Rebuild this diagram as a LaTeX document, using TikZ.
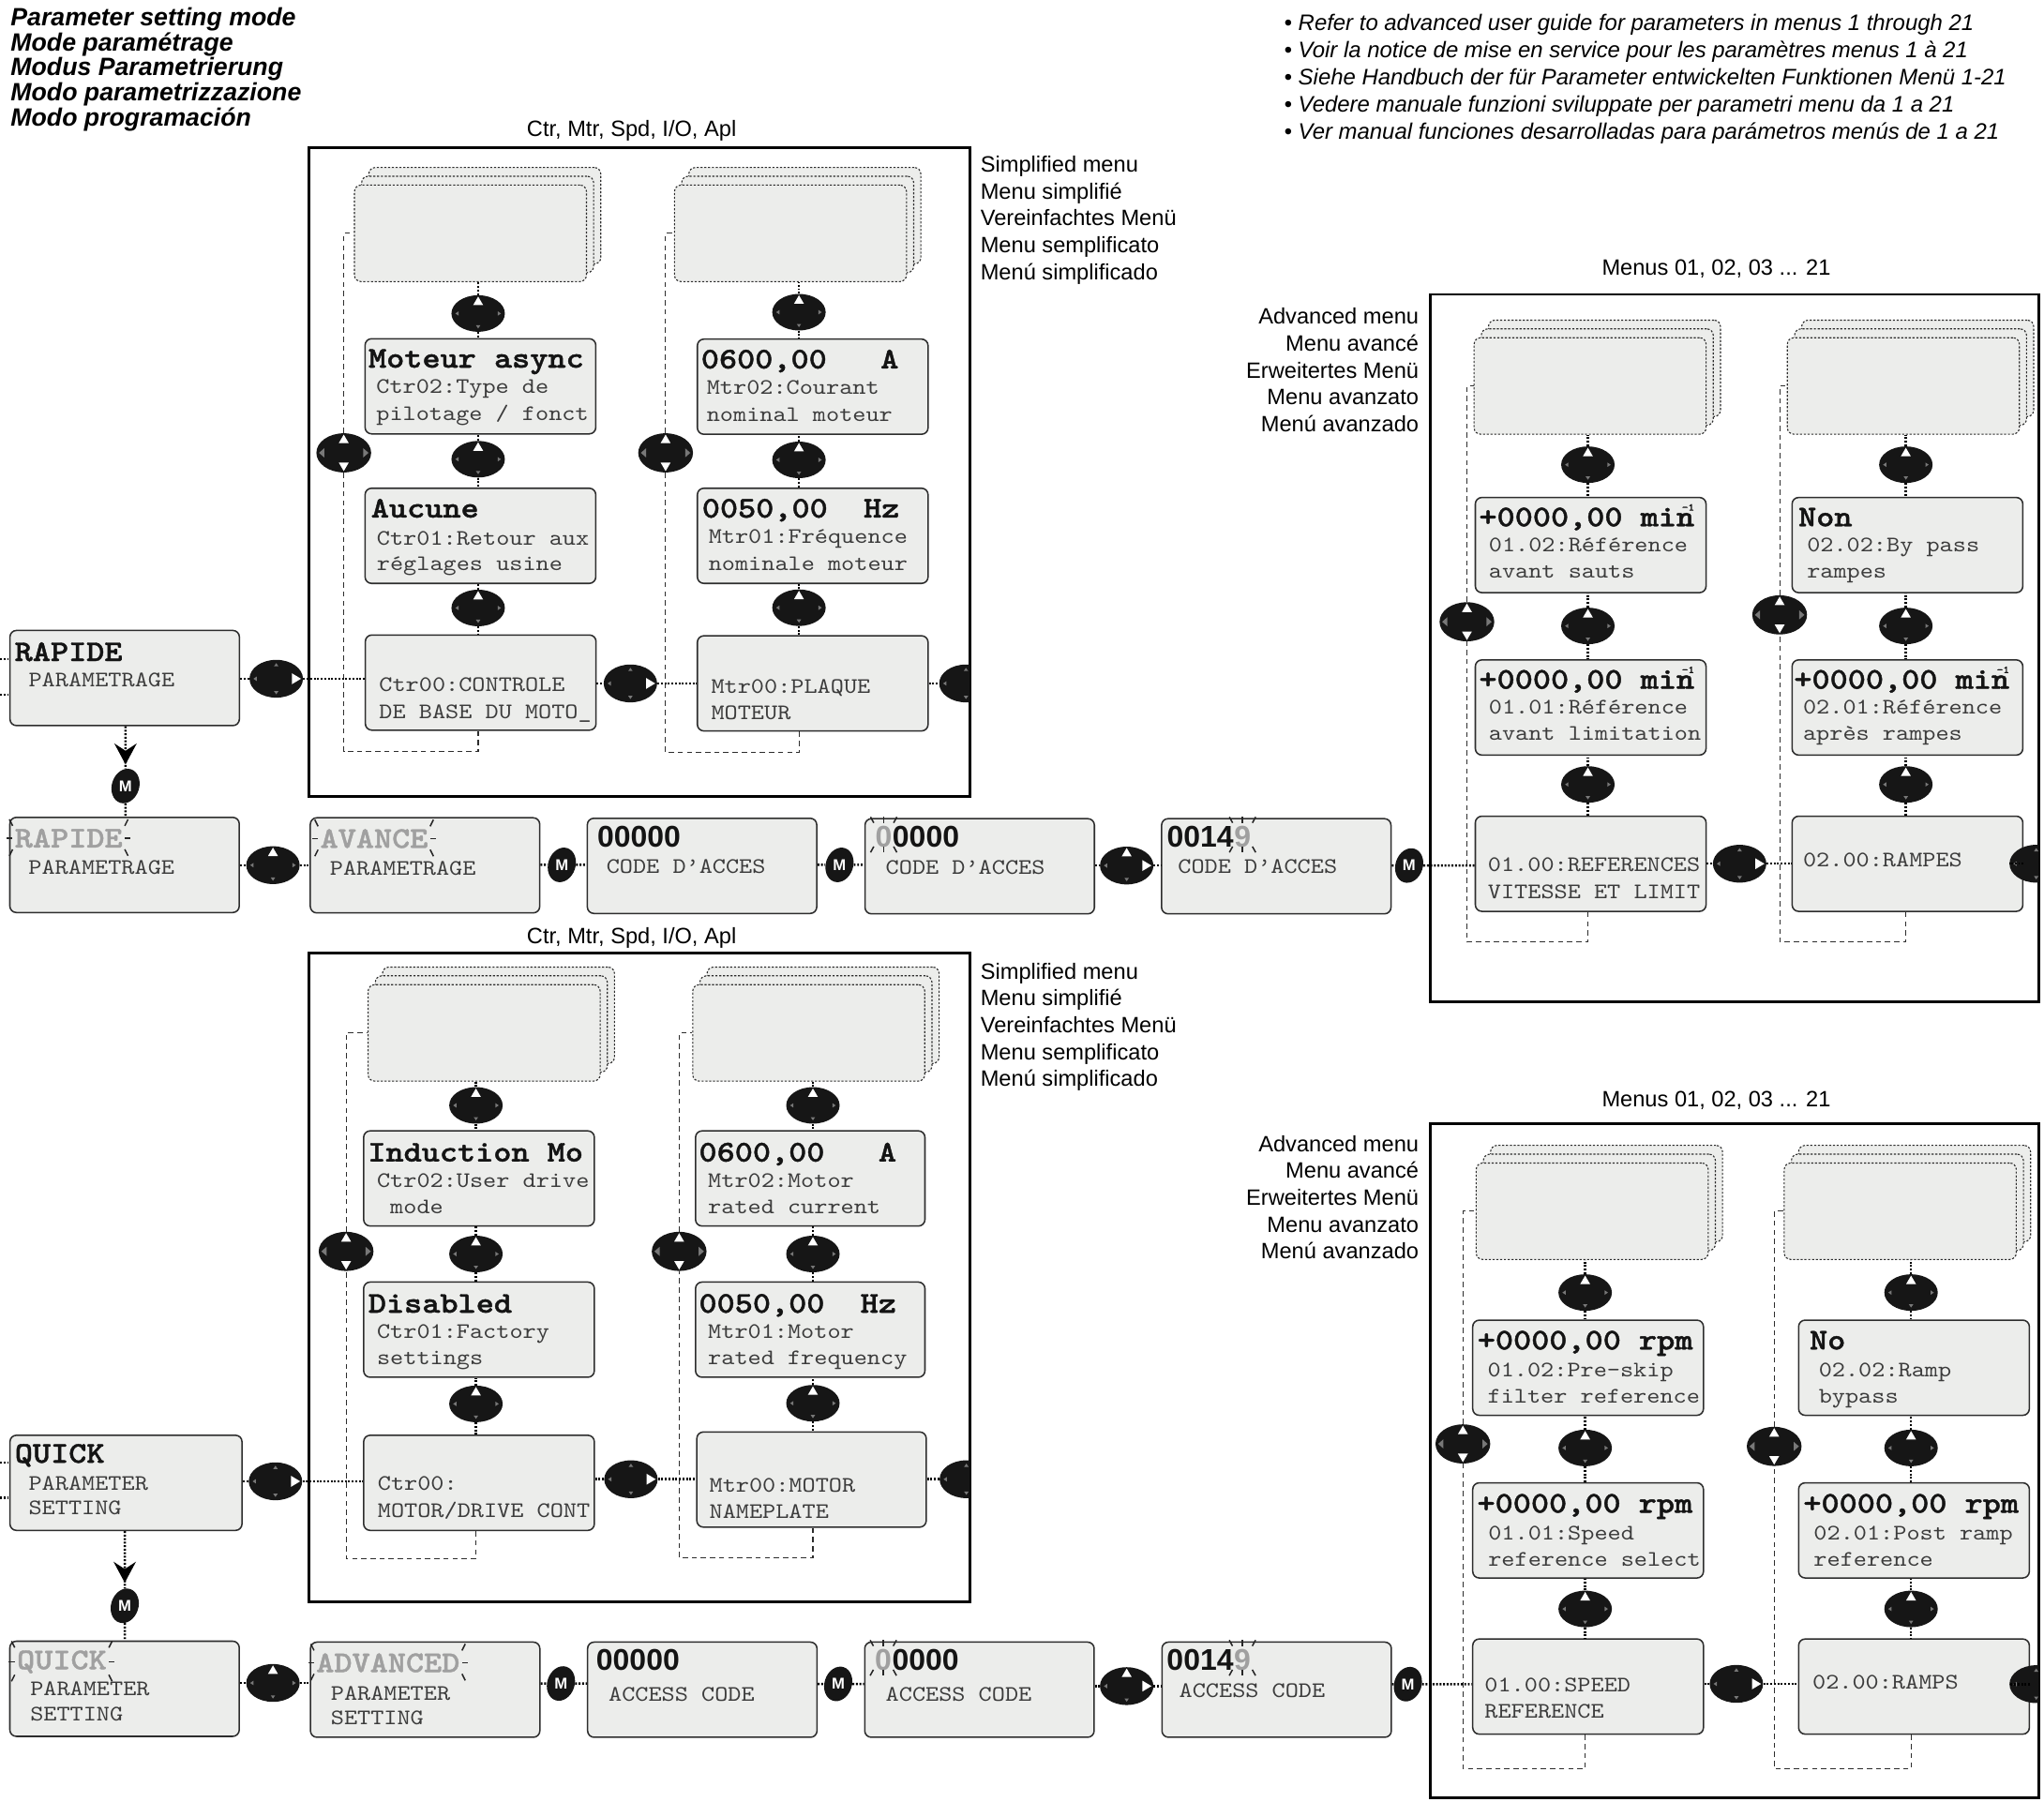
\documentclass[tikz,border=0pt]{standalone}
\usepackage{fontspec}
\setmainfont{Liberation Sans}
\newfontfamily\lcdmono{lmmono10-regular.otf}[FakeStretch=1.14, BoldFont=lmmonolt10-bold.otf, BoldFeatures={FakeBold=1.3}]
\usetikzlibrary{shapes.geometric,arrows.meta,decorations.markings}

\definecolor{lcdfill}{RGB}{236,237,235}
\definecolor{lcdedge}{RGB}{45,45,45}
\definecolor{subtext}{RGB}{60,60,60}
\definecolor{blinkgrey}{RGB}{160,160,160}
\definecolor{btnfill}{RGB}{22,22,22}
\definecolor{smallarrow}{RGB}{120,120,120}

\tikzset{
 lcd/.style={draw=lcdedge, line width=1.1pt, fill=lcdfill, rounded corners=5pt, inner sep=0pt, anchor=north west},
 ghost/.style={draw=lcdedge, line width=0.8pt, dash pattern=on 1.6pt off 1.3pt, fill=lcdfill, rounded corners=5pt, inner sep=0pt, anchor=north west},
 bigtxt/.style={font=\lcdmono\bfseries\fontsize{23}{23}\selectfont, text=black!92, inner sep=0pt, anchor=base west},
 subtxt/.style={font=\lcdmono\fontsize{17}{17}\selectfont, text=subtext, inner sep=0pt, anchor=base west},
 blinktxt/.style={bigtxt, text=blinkgrey},
 digits/.style={font=\bfseries\fontsize{23}{23}\selectfont, text=black!92, inner sep=0pt, anchor=base west},
 conn/.style={draw=black, line width=1.8pt, dash pattern=on 1.4pt off 1.3pt},
 loopline/.style={draw=lcdedge, line width=0.8pt, dash pattern=on 4pt off 3pt},
 frame/.style={draw=black, line width=2pt},
 navbtn/.style={ellipse, fill=btnfill, inner sep=0pt},
 mbtn/.style={ellipse, fill=btnfill, inner sep=0pt, minimum width=21pt, minimum height=27pt, rotate=-18},
 mtxt/.style={font=\bfseries\fontsize{12}{12}\selectfont, text=white, inner sep=0pt},
 lbl/.style={font=\fontsize{17}{17}\selectfont, inner sep=0pt},
 titletxt/.style={font=\bfseries\itshape\fontsize{19.2}{19.2}\selectfont, inner sep=0pt, anchor=base west},
 notetxt/.style={font=\itshape\fontsize{17.2}{17.2}\selectfont, inner sep=0pt, anchor=base west},
 tick/.style={draw=black!85, line width=1.1pt},
 arrowmid/.style={postaction={decorate}, decoration={markings, mark=at position #1 with {\arrow{Stealth[length=16pt,width=17pt,inset=5.5pt]}}}}
}

% buttons
\newcommand\navb[6]{%
 \node[navbtn, minimum width={2*#4}, minimum height={2*#5}] (#1) at (#2,#3) {};
 \begin{scope}[shift={(#1.center)}]\def\rx{#4}\def\ry{#5}#6\end{scope}}
\newcommand\wU{\fill[white] (0,-\ry+1) -- (-3.8,-\ry+7.5) -- (3.8,-\ry+7.5) -- cycle;}
\newcommand\wD{\fill[white] (0,\ry-1) -- (-3.8,\ry-7.5) -- (3.8,\ry-7.5) -- cycle;}
\newcommand\wR{\fill[white] (\rx-1.5,0) -- (\rx-8.5,-4.2) -- (\rx-8.5,4.2) -- cycle;}
\newcommand\gU{\fill[smallarrow] (0,-\ry+2.5) -- (-1.7,-\ry+5) -- (1.7,-\ry+5) -- cycle;}
\newcommand\gD{\fill[smallarrow] (0,\ry-2.5) -- (-1.7,\ry-5) -- (1.7,\ry-5) -- cycle;}
\newcommand\gL{\fill[smallarrow] (-\rx+3,0) -- (-\rx+5.5,-1.7) -- (-\rx+5.5,1.7) -- cycle;}
\newcommand\gR{\fill[smallarrow] (\rx-3,0) -- (\rx-5.5,-1.7) -- (\rx-5.5,1.7) -- cycle;}
\newcommand\gLb{\fill[smallarrow] (-\rx+2,0) -- (-\rx+6,-3.5) -- (-\rx+6,3.5) -- cycle;}
\newcommand\gRb{\fill[smallarrow] (\rx-2,0) -- (\rx-6,-3.5) -- (\rx-6,3.5) -- cycle;}
\newcommand\colb[3]{\navb{#1}{#2}{#3}{20.5}{14}{\wU\gD\gL\gR}}
\newcommand\sideb[3]{\navb{#1}{#2}{#3}{21}{15}{\wU\wD\gLb\gRb}}
\newcommand\horb[3]{\navb{#1}{#2}{#3}{20.5}{14.5}{\wR\gU\gD\gL}}
\newcommand\upb[3]{\navb{#1}{#2}{#3}{20.5}{14.5}{\wU\gD\gL\gR}}
\newcommand\urb[3]{\navb{#1}{#2}{#3}{20.5}{14.5}{\wU\wR\gD\gL}}
\newcommand\mb[3]{\node[mbtn] (#1) at (#2,#3) {}; \node[mtxt] (#1t) at (#1.center) {M};}

% boxes
\newcommand\lcd[4][177]{\node[lcd, minimum width=#1pt, minimum height=73pt] (#2) at (#3,#4) {};}
\newcommand\stk[3]{%
 \node[ghost, minimum width=178pt, minimum height=74pt] (#1b) at (#2+11,#3-13.5) {};
 \node[ghost, minimum width=178pt, minimum height=74pt] (#1m) at (#2+5.5,#3-6.8) {};
 \node[ghost, minimum width=178pt, minimum height=74pt] (#1) at (#2,#3) {};}
\newcommand\tx[6]{\node[#1] (#2) at ([shift={(#3,#4)}]#5.north west) {#6};}

% connectors
\newcommand\hcon[2]{\draw[conn] (#2.center -| #1.east) -- (#2);}
\newcommand\hcoR[2]{\draw[conn] (#1) -- (#1.center -| #2.west);}
\newcommand\vcon[2]{\draw[conn] (#1) -- (#1.center |- #2.south);}
\newcommand\vcob[2]{\draw[conn] (#1) -- (#1.center |- #2.north);}

% blink ticks
\newcommand\blinkw[1]{%
 \draw[tick] ([shift={(-1.5,-2)}]#1.north west) -- ([shift={(-4,-7)}]#1.north west);
 \draw[tick] ([shift={(-1.5,0)}]#1.west) -- ([shift={(-6,0)}]#1.west);
 \draw[tick] ([shift={(-1.5,1)}]#1.south west) -- ([shift={(-4,6)}]#1.south west);
 \draw[tick] ([shift={(1.5,-2)}]#1.north east) -- ([shift={(4,-7)}]#1.north east);
 \draw[tick] ([shift={(1.5,0)}]#1.east) -- ([shift={(6,0)}]#1.east);
 \draw[tick] ([shift={(1.5,1)}]#1.south east) -- ([shift={(4,6)}]#1.south east);}
\newcommand\blinkd[1]{%
 \draw[tick] ([shift={(-1,-2.5)}]#1.north west) -- ([shift={(-3.5,-7)}]#1.north west);
 \draw[tick] ([shift={(0,-2.5)}]#1.north) -- ([shift={(0,-7)}]#1.north);
 \draw[tick] ([shift={(1,-2.5)}]#1.north east) -- ([shift={(3.5,-7)}]#1.north east);
 \draw[tick] ([shift={(-1,-1)}]#1.south west) -- ([shift={(-3.5,3.5)}]#1.south west);
 \draw[tick] ([shift={(0,-1)}]#1.south) -- ([shift={(0,3.5)}]#1.south);
 \draw[tick] ([shift={(1,-1)}]#1.south east) -- ([shift={(3.5,3.5)}]#1.south east);}

\newcommand\minus{min\llap{\raisebox{12pt}{\fontsize{8}{8}\selectfont -1}}}

\begin{document}
\begin{tikzpicture}[x=1pt,y=-1pt]
\useasboundingbox (0,0) rectangle (1568,1382);

% ---------------- headings
\foreach \t [count=\i] in {Parameter setting mode, Mode paramétrage, Modus Parametrierung, Modo parametrizzazione, Modo programación}
 \node[titletxt] (title\i) at (8,{19.5+19.35*(\i-1)}) {\t};
\foreach \t [count=\i] in {Refer to advanced user guide for parameters in menus 1 through 21, Voir la notice de mise en service pour les paramètres menus 1 à 21, Siehe Handbuch der für Parameter entwickelten Funktionen Menü 1-21, Vedere manuale funzioni sviluppate per parametri menu da 1 a 21, Ver manual funciones desarrolladas para parámetros menús de 1 a 21}
 \node[notetxt] (note\i) at (985,{23.5+20.75*(\i-1)}) {• \t};

% ================= TOP (French) =================
\node[lbl, anchor=base] (ctrA) at (484.5,105) {Ctr, Mtr, Spd, I/O, Apl};
\foreach \t [count=\i] in {Simplified menu, Menu simplifié, Vereinfachtes Menü, Menu semplificato, Menú simplificado}
 \node[lbl, anchor=base west] (simpA\i) at (752,{132+20.6*(\i-1)}) {\t};
\node[lbl, anchor=base] (menusA) at (1316.6,211) {Menus 01, 02, 03 ... 21};
\foreach \t [count=\i] in {Advanced menu, Menu avancé, Erweitertes Menü, Menu avanzato, Menú avanzado}
 \node[lbl, anchor=base east] (advA\i) at (1088.5,{248.7+20.6*(\i-1)}) {\t};

\draw[frame] (237,113) rectangle (744,611);
\draw[frame] (1097,225.8) rectangle (1564,768.7);

% stacks
\stk{stL}{271.5}{141.6}
\stk{stR}{517}{141.6}
\stk{stC}{1130.4}{258.7}
\stk{stD}{1370.7}{258.7}

% boxes
\lcd[176]{rap}{7.1}{483.1}
\lcd{L1}{279.5}{259.3}
\lcd{L2}{279.5}{374}
\lcd{L3}{279.7}{486.6}
\lcd{R1}{534.4}{259.6}
\lcd{R2}{534.4}{374}
\lcd{R3}{534.4}{487.2}
\lcd[176]{B1}{7}{626.5}
\lcd[176]{B2}{237.5}{626.8}
\lcd[176]{B3}{450}{627.2}
\lcd[176]{B4}{663}{627.5}
\lcd[176]{B5}{890.5}{627.5}
\lcd{C1a}{1131.2}{381.1}
\lcd{C1b}{1131.2}{505.7}
\lcd{C1c}{1131.2}{625.6}
\lcd{C2a}{1374.2}{381.1}
\lcd{C2b}{1374.2}{505.7}
\lcd{C2c}{1374.2}{625.6}

% buttons
\colb{bL1}{366.8}{240.5} \colb{bL2}{366.8}{352.3} \colb{bL3}{366.8}{466.4}
\colb{bR1}{612.9}{239.5} \colb{bR2}{612.9}{352.8} \colb{bR3}{612.9}{466.2}
\sideb{sdL}{263.7}{347.4} \sideb{sdR}{510.6}{347.4}
\horb{h1}{211.9}{520.7} \horb{h2}{483.6}{524.3}
\begin{scope}\clip (0,0) rectangle (744,1382); \horb{h3}{741}{524.3} \end{scope}
\mb{m0}{96.3}{603}
\upb{u1}{209.4}{663.7}
\mb{m1}{431}{663.5}
\mb{m2}{644}{663.5}
\urb{ur1}{864.3}{664}
\mb{m3}{1081}{664}
\colb{bC1}{1218.1}{356.5} \colb{bC2}{1218.1}{480.2} \colb{bC3}{1218.1}{601.8}
\colb{bD1}{1462}{356.5} \colb{bD2}{1462}{480.2} \colb{bD3}{1462}{601.8}
\sideb{sdC}{1125.3}{477} \sideb{sdD}{1365.2}{471.7}
\horb{hC}{1334.5}{662.6}
\begin{scope}\clip (0,0) rectangle (1564,1382); \horb{hD}{1562}{662.6} \end{scope}

% loops
\draw[loopline] (bL3.center |- L3.south) -- ++(0,16) -| (sdL.south);
\draw[loopline] (sdL.north) |- (stL.west);
\draw[loopline] (bR3.center |- R3.south) -- ++(0,16) -| (sdR.south);
\draw[loopline] (sdR.north) |- (stR.west);
\draw[loopline] (bC3.center |- C1c.south) -- ++(0,23) -| (sdC.south);
\draw[loopline] (sdC.north) |- (stC.west);
\draw[loopline] (bD3.center |- C2c.south) -- ++(0,23) -| (sdD.south);
\draw[loopline] (sdD.north) |- (stD.west);

% connectors
\coordinate (stubA) at (0,505.6); \coordinate (stubB) at (0,533);
\draw[conn] (stubA) -- (stubA -| rap.west);
\draw[conn] (stubB) -- (stubB -| rap.west);
\hcon{rap}{h1} \hcoR{h1}{L3}
\hcon{L3}{h2} \hcoR{h2}{R3}
\hcon{R3}{h3}
\vcon{bL1}{stL} \vcob{bL1}{L1} \vcon{bL2}{L1} \vcob{bL2}{L2} \vcon{bL3}{L2} \vcob{bL3}{L3}
\vcon{bR1}{stR} \vcob{bR1}{R1} \vcon{bR2}{R1} \vcob{bR2}{R2} \vcon{bR3}{R2} \vcob{bR3}{R3}
\draw[conn, arrowmid=0.9] (m0.center |- rap.south) -- (m0);
\draw[conn] (m0) -- (m0.center |- B1.north);
\hcon{B1}{u1} \hcoR{u1}{B2} \hcon{B2}{m1} \hcoR{m1}{B3} \hcon{B3}{m2} \hcoR{m2}{B4}
\hcon{B4}{ur1} \hcoR{ur1}{B5} \hcon{B5}{m3} \hcoR{m3}{C1c}
\hcon{C1c}{hC} \hcoR{hC}{C2c} \hcon{C2c}{hD}
\vcon{bC1}{stC} \vcob{bC1}{C1a} \vcon{bC2}{C1a} \vcob{bC2}{C1b} \vcon{bC3}{C1b} \vcob{bC3}{C1c}
\vcon{bD1}{stD} \vcob{bD1}{C2a} \vcon{bD2}{C2a} \vcob{bD2}{C2b} \vcon{bD3}{C2b} \vcob{bD3}{C2c}

% texts
\tx{bigtxt}{rapA}{4}{24}{rap}{RAPIDE}
\tx{subtxt}{rapB}{14.7}{44}{rap}{PARAMETRAGE}
\tx{bigtxt}{L1a}{3}{22.7}{L1}{Moteur async}
\tx{subtxt}{L1b}{9}{42.6}{L1}{Ctr02:Type de}
\tx{subtxt}{L1c}{9}{63.5}{L1}{pilotage / fonct}
\tx{bigtxt}{L2a}{5}{23}{L2}{Aucune}
\tx{subtxt}{L2b}{9.4}{44}{L2}{Ctr01:Retour aux}
\tx{subtxt}{L2c}{9.4}{64}{L2}{réglages usine}
\tx{subtxt}{L3a}{11}{44}{L3}{Ctr00:CONTROLE}
\tx{subtxt}{L3b}{11}{65}{L3}{DE BASE DU MOTO\_}
\tx{bigtxt}{R1a}{3.3}{23}{R1}{0600,00\ \ \ A}
\tx{subtxt}{R1b}{7.6}{43}{R1}{Mtr02:Courant}
\tx{subtxt}{R1c}{7.6}{64}{R1}{nominal moteur}
\tx{bigtxt}{R2a}{4}{23}{R2}{0050,00\ \ Hz}
\tx{subtxt}{R2b}{9}{43}{R2}{Mtr01:Fréquence}
\tx{subtxt}{R2c}{9}{64}{R2}{nominale moteur}
\tx{subtxt}{R3a}{11}{44.5}{R3}{Mtr00:PLAQUE}
\tx{subtxt}{R3b}{11}{65}{R3}{MOTEUR}
\tx{blinktxt}{B1a}{4.2}{23.6}{B1}{RAPIDE} \blinkw{B1a}
\tx{subtxt}{B1b}{14.7}{44.5}{B1}{PARAMETRAGE}
\tx{blinktxt}{B2a}{8}{23.6}{B2}{AVANCE} \blinkw{B2a}
\tx{subtxt}{B2b}{15.4}{44.5}{B2}{PARAMETRAGE}
\tx{digits}{B3a}{8}{23}{B3}{00000}
\tx{subtxt}{B3b}{15}{43}{B3}{CODE D’ACCES}
\tx{digits}{B4a}{8.3}{22.5}{B4}{\textcolor{blinkgrey}{0}}
\node[digits] (B4c) at (B4a.base east) {0000};
\blinkd{B4a}
\tx{subtxt}{B4b}{16.3}{43}{B4}{CODE D’ACCES}
\tx{digits}{B5a}{4.5}{22.5}{B5}{0014}
\node[digits, text=blinkgrey] (B5c) at (B5a.base east) {9};
\blinkd{B5c}
\tx{subtxt}{B5b}{13}{42.5}{B5}{CODE D’ACCES}
\tx{bigtxt}{C1aa}{3.2}{22.6}{C1a}{+0000,00 \minus}
\tx{subtxt}{C1ab}{10.7}{42.2}{C1a}{01.02:Référence}
\tx{subtxt}{C1ac}{10.7}{62}{C1a}{avant sauts}
\tx{bigtxt}{C1ba}{3.2}{22.6}{C1b}{+0000,00 \minus}
\tx{subtxt}{C1bb}{10.7}{42.2}{C1b}{01.01:Référence}
\tx{subtxt}{C1bc}{10.7}{62}{C1b}{avant limitation}
\tx{subtxt}{C1ca}{10}{43}{C1c}{01.00:REFERENCES}
\tx{subtxt}{C1cb}{10}{63.5}{C1c}{VITESSE ET LIMIT}
\tx{bigtxt}{C2aa}{5.2}{22.6}{C2a}{Non}
\tx{subtxt}{C2ab}{11.8}{42.2}{C2a}{02.02:By pass}
\tx{subtxt}{C2ac}{11.8}{62}{C2a}{rampes}
\tx{bigtxt}{C2ba}{1.8}{22.6}{C2b}{+0000,00 \minus}
\tx{subtxt}{C2bb}{8.8}{42.2}{C2b}{02.01:Référence}
\tx{subtxt}{C2bc}{8.8}{62}{C2b}{après rampes}
\tx{subtxt}{C2ca}{8.8}{39.4}{C2c}{02.00:RAMPES}

% ================= BOTTOM (English) =================
\node[lbl, anchor=base] (ctrB) at (484.5,724) {Ctr, Mtr, Spd, I/O, Apl};
\foreach \t [count=\i] in {Simplified menu, Menu simplifié, Vereinfachtes Menü, Menu semplificato, Menú simplificado}
 \node[lbl, anchor=base west] (simpB\i) at (752,{751+20.6*(\i-1)}) {\t};
\node[lbl, anchor=base] (menusB) at (1316.6,849.2) {Menus 01, 02, 03 ... 21};
\foreach \t [count=\i] in {Advanced menu, Menu avancé, Erweitertes Menü, Menu avanzato, Menú avanzado}
 \node[lbl, anchor=base east] (advB\i) at (1088.5,{883.5+20.6*(\i-1)}) {\t};

\draw[frame] (237,731) rectangle (744,1229);
\draw[frame] (1097,862) rectangle (1564,1379.3);

\stk{stLb}{282}{755}
\stk{stRb}{531}{755}
\stk{stCb}{1132}{891.8}
\stk{stDb}{1368.3}{891.8}

\lcd[178]{qk}{7.1}{1100.5}
\lcd{L1b}{278.4}{867}
\lcd{L2b}{278.4}{983}
\lcd{L3b}{278.4}{1100.5}
\lcd[176]{R1b}{533}{867}
\lcd[176]{R2b}{533}{983}
\lcd[176]{R3b}{534}{1098}
\lcd[176]{B1b}{7}{1258.5}
\lcd[176]{B2b}{237.6}{1259.2}
\lcd[176]{B3b}{450.2}{1259.2}
\lcd[176]{B4b}{662.8}{1259.2}
\lcd[176]{B5b}{890.8}{1259.2}
\lcd{C1ab}{1129.2}{1012.2}
\lcd{C1bb}{1129.2}{1137}
\lcd{C1cb}{1129.2}{1256.8}
\lcd{C2ab}{1379.2}{1012.2}
\lcd{C2bb}{1379.2}{1137}
\lcd{C2cb}{1379.2}{1256.8}

\colb{bL1b}{365.1}{848} \colb{bL2b}{365.1}{962} \colb{bL3b}{365.1}{1077}
\colb{bR1b}{623.6}{848} \colb{bR2b}{623.6}{962} \colb{bR3b}{623.6}{1076.5}
\sideb{sdLb}{265.5}{960} \sideb{sdRb}{521}{960}
\horb{h1b}{211.3}{1136.4} \horb{h2b}{484}{1134.8}
\begin{scope}\clip (0,0) rectangle (744,1382); \horb{h3b}{741.3}{1134.8} \end{scope}
\mb{m0b}{95.7}{1231.9}
\upb{u1b}{209.4}{1291.1}
\mb{m1b}{430.3}{1291.5}
\mb{m2b}{643}{1291.8}
\urb{ur1b}{864.3}{1293.5}
\mb{m3b}{1080}{1292}
\colb{bC1b}{1216}{991.6} \colb{bC2b}{1216}{1110.8} \colb{bC3b}{1216}{1234.3}
\colb{bD1b}{1466}{991.6} \colb{bD2b}{1466}{1110.8} \colb{bD3b}{1466}{1234.3}
\sideb{sdCb}{1122.2}{1107.7} \sideb{sdDb}{1361}{1109.6}
\horb{hCb}{1332}{1291.8}
\begin{scope}\clip (0,0) rectangle (1564,1382); \horb{hDb}{1562}{1292} \end{scope}

\draw[loopline] (bL3b.center |- L3b.south) -- ++(0,21) -| (sdLb.south);
\draw[loopline] (sdLb.north) |- (stLb.west);
\draw[loopline] (bR3b.center |- R3b.south) -- ++(0,23) -| (sdRb.south);
\draw[loopline] (sdRb.north) |- (stRb.west);
\draw[loopline] (bC3b.center |- C1cb.south) -- ++(0,26) -| (sdCb.south);
\draw[loopline] (sdCb.north) |- (stCb.west);
\draw[loopline] (bD3b.center |- C2cb.south) -- ++(0,26) -| (sdDb.south);
\draw[loopline] (sdDb.north) |- (stDb.west);

\coordinate (stubC) at (0,1122); \coordinate (stubD) at (0,1149);
\draw[conn] (stubC) -- (stubC -| qk.west);
\draw[conn] (stubD) -- (stubD -| qk.west);
\hcon{qk}{h1b} \hcoR{h1b}{L3b}
\hcon{L3b}{h2b} \hcoR{h2b}{R3b}
\hcon{R3b}{h3b}
\vcon{bL1b}{stLb} \vcob{bL1b}{L1b} \vcon{bL2b}{L1b} \vcob{bL2b}{L2b} \vcon{bL3b}{L2b} \vcob{bL3b}{L3b}
\vcon{bR1b}{stRb} \vcob{bR1b}{R1b} \vcon{bR2b}{R1b} \vcob{bR2b}{R2b} \vcon{bR3b}{R2b} \vcob{bR3b}{R3b}
\draw[conn, arrowmid=0.9] (m0b.center |- qk.south) -- (m0b);
\draw[conn] (m0b) -- (m0b.center |- B1b.north);
\hcon{B1b}{u1b} \hcoR{u1b}{B2b} \hcon{B2b}{m1b} \hcoR{m1b}{B3b} \hcon{B3b}{m2b} \hcoR{m2b}{B4b}
\hcon{B4b}{ur1b} \hcoR{ur1b}{B5b} \hcon{B5b}{m3b} \hcoR{m3b}{C1cb}
\hcon{C1cb}{hCb} \hcoR{hCb}{C2cb} \hcon{C2cb}{hDb}
\vcon{bC1b}{stCb} \vcob{bC1b}{C1ab} \vcon{bC2b}{C1ab} \vcob{bC2b}{C1bb} \vcon{bC3b}{C1bb} \vcob{bC3b}{C1cb}
\vcon{bD1b}{stDb} \vcob{bD1b}{C2ab} \vcon{bD2b}{C2ab} \vcob{bD2b}{C2bb} \vcon{bD3b}{C2bb} \vcob{bD3b}{C2cb}

\tx{bigtxt}{qkA}{4.1}{21.6}{qk}{QUICK}
\tx{subtxt}{qkB}{14.7}{42.7}{qk}{PARAMETER}
\tx{subtxt}{qkC}{14.7}{61.8}{qk}{SETTING}
\tx{bigtxt}{L1ba}{3.6}{24}{L1b}{Induction Mo}
\tx{subtxt}{L1bb}{10.6}{44}{L1b}{Ctr02:User drive}
\tx{subtxt}{L1bc}{10.6}{64}{L1b}{\hphantom{m}mode}
\tx{bigtxt}{L2ba}{4}{24}{L2b}{Disabled}
\tx{subtxt}{L2bb}{10.6}{44}{L2b}{Ctr01:Factory}
\tx{subtxt}{L2bc}{10.6}{64}{L2b}{settings}
\tx{subtxt}{L3ba}{11.2}{43}{L3b}{Ctr00:}
\tx{subtxt}{L3bb}{11.2}{63.5}{L3b}{MOTOR/DRIVE CONT}
\tx{bigtxt}{R1ba}{3}{24}{R1b}{0600,00\ \ \ A}
\tx{subtxt}{R1bb}{10}{44}{R1b}{Mtr02:Motor}
\tx{subtxt}{R1bc}{10}{64}{R1b}{rated current}
\tx{bigtxt}{R2ba}{3}{24}{R2b}{0050,00\ \ Hz}
\tx{subtxt}{R2bb}{10}{44}{R2b}{Mtr01:Motor}
\tx{subtxt}{R2bc}{10}{64}{R2b}{rated frequency}
\tx{subtxt}{R3ba}{10}{46.8}{R3b}{Mtr00:MOTOR}
\tx{subtxt}{R3bb}{10}{66.7}{R3b}{NAMEPLATE}
\tx{blinktxt}{B1ba}{5.8}{22}{B1b}{QUICK} \blinkw{B1ba}
\tx{subtxt}{B1bb}{16}{42.4}{B1b}{PARAMETER}
\tx{subtxt}{B1bc}{16}{61.6}{B1b}{SETTING}
\tx{blinktxt}{B2ba}{4.8}{23.5}{B2b}{ADVANCED} \blinkw{B2ba}
\tx{subtxt}{B2bb}{16}{45}{B2b}{PARAMETER}
\tx{subtxt}{B2bc}{16}{64}{B2b}{SETTING}
\tx{digits}{B3ba}{7}{22.3}{B3b}{00000}
\tx{subtxt}{B3bb}{16.5}{45.8}{B3b}{ACCESS CODE}
\tx{digits}{B4ba}{8.2}{22.3}{B4b}{\textcolor{blinkgrey}{0}}
\node[digits] (B4bc) at (B4ba.base east) {0000};
\blinkd{B4ba}
\tx{subtxt}{B4bb}{16.5}{45.8}{B4b}{ACCESS CODE}
\tx{digits}{B5ba}{4.1}{22.3}{B5b}{0014}
\node[digits, text=blinkgrey] (B5bc) at (B5ba.base east) {9};
\blinkd{B5bc}
\tx{subtxt}{B5bb}{13.6}{42.7}{B5b}{ACCESS CODE}
\tx{bigtxt}{C1aba}{4}{23}{C1ab}{+0000,00 rpm}
\tx{subtxt}{C1abb}{11.8}{44}{C1ab}{01.02:Pre-skip}
\tx{subtxt}{C1abc}{11.8}{64}{C1ab}{filter reference}
\tx{bigtxt}{C1bba}{3.8}{23.4}{C1bb}{+0000,00 rpm}
\tx{subtxt}{C1bbb}{12.3}{44.5}{C1bb}{01.01:Speed}
\tx{subtxt}{C1bbc}{12.3}{64.7}{C1bb}{reference select}
\tx{subtxt}{C1cba}{9.5}{40.8}{C1cb}{01.00:SPEED}
\tx{subtxt}{C1cbb}{9.5}{61}{C1cb}{REFERENCE}
\tx{bigtxt}{C2aba}{8.8}{23}{C2ab}{No}
\tx{subtxt}{C2abb}{15.8}{44}{C2ab}{02.02:Ramp}
\tx{subtxt}{C2abc}{15.8}{64}{C2ab}{bypass}
\tx{bigtxt}{C2bba}{4}{23.4}{C2bb}{+0000,00 rpm}
\tx{subtxt}{C2bbb}{12}{44.5}{C2bb}{02.01:Post ramp}
\tx{subtxt}{C2bbc}{12}{64.7}{C2bb}{reference}
\tx{subtxt}{C2cba}{11}{39}{C2cb}{02.00:RAMPS}
\end{tikzpicture}
\end{document}
